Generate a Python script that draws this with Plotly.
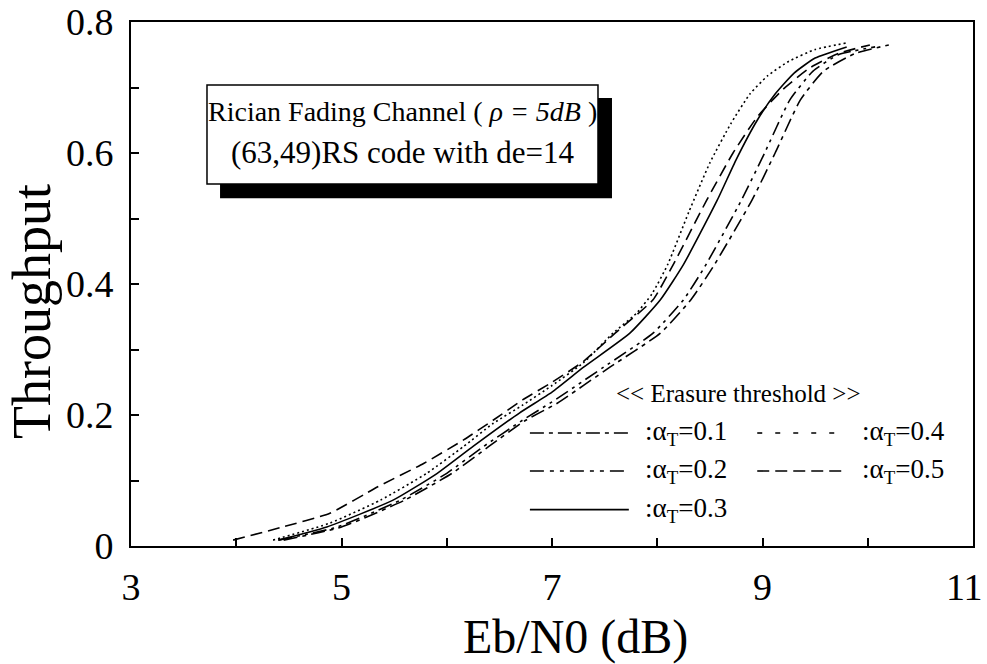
import plotly.graph_objects as go

# ---- data ----
a01_x = [4.45, 5.0, 5.6, 6.05, 6.4, 6.75, 7.05, 7.55, 8.03, 8.32, 8.53, 8.9, 9.12, 9.36, 9.58, 9.88, 10.2]
a01_y = [0.009, 0.029, 0.070, 0.111, 0.152, 0.192, 0.218, 0.273, 0.325, 0.376, 0.426, 0.528, 0.600, 0.681, 0.725, 0.752, 0.765]

a02_x = [4.40, 4.96, 5.56, 6.0, 6.35, 6.72, 7.0, 7.49, 7.96, 8.25, 8.45, 8.8, 9.02, 9.26, 9.48, 9.72, 10.07]
a02_y = [0.009, 0.029, 0.070, 0.111, 0.152, 0.192, 0.220, 0.273, 0.325, 0.376, 0.426, 0.528, 0.600, 0.681, 0.725, 0.750, 0.762]

a03_x = [4.40, 4.86, 5.49, 5.91, 6.25, 6.69, 7.0, 7.30, 7.74, 8.03, 8.25, 8.57, 8.75, 8.95, 9.12, 9.30, 9.50, 9.80]
a03_y = [0.009, 0.029, 0.070, 0.111, 0.152, 0.203, 0.235, 0.273, 0.325, 0.376, 0.430, 0.528, 0.590, 0.650, 0.690, 0.722, 0.745, 0.762]

a04_x = [4.35, 4.89, 5.37, 5.81, 6.16, 6.44, 6.72, 7.0, 7.3, 7.58, 7.8, 7.95, 8.1, 8.3, 8.5, 8.7, 8.88, 9.05, 9.25, 9.5, 9.80]
a04_y = [0.009, 0.035, 0.070, 0.111, 0.152, 0.187, 0.215, 0.245, 0.280, 0.325, 0.355, 0.385, 0.430, 0.510, 0.585, 0.645, 0.690, 0.718, 0.740, 0.758, 0.768]

a05_x = [3.97, 4.44, 4.89, 5.34, 5.78, 6.16, 6.44, 6.72, 7.0, 7.3, 7.6, 7.96, 8.14, 8.47, 8.72, 8.95, 9.2, 9.45, 9.72, 10.02]
a05_y = [0.009, 0.029, 0.050, 0.090, 0.126, 0.162, 0.192, 0.223, 0.250, 0.282, 0.325, 0.376, 0.426, 0.528, 0.600, 0.655, 0.698, 0.730, 0.752, 0.765]

series_names = [":α<sub>T</sub>=0.1", ":α<sub>T</sub>=0.2", ":α<sub>T</sub>=0.3", ":α<sub>T</sub>=0.4", ":α<sub>T</sub>=0.5"]
x_ticks = [3, 5, 7, 9, 11]
x_tick_labels = ["3", "5", "7", "9", "11"]
y_ticks = [0, 0.2, 0.4, 0.6, 0.8]
y_tick_labels = ["0", "0.2", "0.4", "0.6", "0.8"]
x_title = "Eb/N0 (dB)"
y_title = "Throughput"

FONT = "Liberation Serif, Times New Roman, serif"
curve_dash = ["14px,5px,4px,5px", "14px,5px,3px,5px,3px,5px", "solid", "2px,3px", "12px,6px"]
legend_dash = ["14px,5px,4px,5px", "14px,6px,4px,6px,4px,6px", "solid", "5px,13px", "12px,6px"]

xs = [a01_x, a02_x, a03_x, a04_x, a05_x]
ys = [a01_y, a02_y, a03_y, a04_y, a05_y]

fig = go.Figure()
for x, y, name, d in zip(xs, ys, series_names, curve_dash):
    fig.add_trace(go.Scatter(x=x, y=y, mode="lines", name=name,
                             line=dict(color="black", width=1.6, dash=d, shape="spline", smoothing=0.5),
                             showlegend=False))

# text box with shadow
fig.add_shape(type="rect", xref="x", yref="y", x0=3.846, x1=7.57, y0=0.531, y1=0.684,
              fillcolor="black", line=dict(color="black", width=0), layer="above")
fig.add_shape(type="rect", xref="x", yref="y", x0=3.722, x1=7.437, y0=0.5527, y1=0.7038,
              fillcolor="white", line=dict(color="black", width=1.5), layer="above")
fig.add_annotation(xref="x", yref="y", x=5.58, y=0.663, showarrow=False,
                   text="Rician Fading Channel ( <i>ρ = 5dB</i> )",
                   font=dict(family=FONT, size=28, color="black"))
fig.add_annotation(xref="x", yref="y", x=5.58, y=0.601, showarrow=False,
                   text="(63,49)RS code with de=14",
                   font=dict(family=FONT, size=31, color="black"))

# manual legend
fig.add_annotation(xref="x", yref="y", x=8.77, y=0.2335, showarrow=False,
                   text="<< Erasure threshold >>", font=dict(family=FONT, size=25, color="black"))
rows = [0.1725, 0.1145, 0.0555]
positions = [(0, 0), (1, 0), (2, 0), (0, 1), (1, 1)]  # (row, col) for each series
col_x = [(6.79, 7.73, 7.86), (8.95, 9.77, 9.93)]
for (r, c), name, d in zip(positions, series_names, legend_dash):
    x0, x1, xt = col_x[c]
    fig.add_shape(type="line", xref="x", yref="y", x0=x0, x1=x1, y0=rows[r], y1=rows[r],
                  line=dict(color="black", width=1.6, dash=d))
    fig.add_annotation(xref="x", yref="y", x=xt, y=rows[r], xanchor="left", showarrow=False,
                       text=name, font=dict(family=FONT, size=27, color="black"))

# last x tick label kept inside the page (the reference nudges it left of the frame edge)
fig.add_annotation(xref="x", yref="paper", x=x_ticks[-1], y=-0.078, xanchor="right", xshift=12,
                   yanchor="middle", showarrow=False, text=x_tick_labels[-1],
                   font=dict(family=FONT, size=38, color="black"))
# axis titles
fig.add_annotation(xref="paper", yref="paper", x=0.5285, y=-0.1737, xanchor="center", yanchor="middle",
                   showarrow=False, text=x_title, font=dict(family=FONT, size=48, color="black"))
fig.add_annotation(xref="paper", yref="paper", x=-0.1176, y=0.4485, xanchor="center", yanchor="middle",
                   showarrow=False, textangle=-90, text=y_title,
                   font=dict(family=FONT, size=54, color="black"))

axis_common = dict(showline=True, linecolor="black", linewidth=2, mirror=True,
                   showgrid=False, zeroline=False, ticks="inside", ticklen=8,
                   tickcolor="black", tickwidth=1.5, ticklabeloverflow="allow",
                   automargin=False,
                   tickfont=dict(family=FONT, size=38, color="black"))
fig.update_xaxes(range=[3, 11], tickvals=x_ticks, ticktext=x_tick_labels[:-1] + [""], ticklabelstandoff=6,
                 minor=dict(dtick=1, tick0=3, ticks="inside", ticklen=8, tickcolor="black"),
                 **axis_common)
fig.update_yaxes(range=[0, 0.8], tickvals=y_ticks, ticktext=y_tick_labels, ticklabelstandoff=8,
                 minor=dict(dtick=0.1, tick0=0, ticks="inside", ticklen=8, tickcolor="black"),
                 **axis_common)
fig.update_layout(width=987, height=664, margin=dict(l=131, r=14, t=22, b=118),
                  plot_bgcolor="white", paper_bgcolor="white", showlegend=False)
fig.write_html("out.html")
